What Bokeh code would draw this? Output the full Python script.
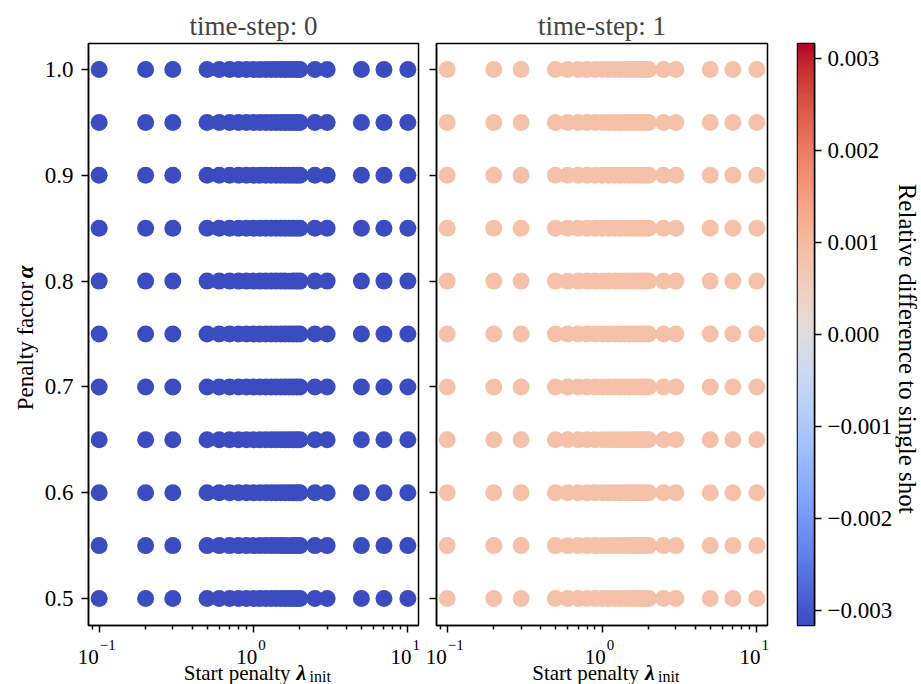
import numpy as np
from bokeh.plotting import figure
from bokeh.layouts import row, column
from bokeh.models import (Range1d, FixedTicker, LinearColorMapper, Label, LabelSet,
                          ColumnDataSource, CustomJSTickFormatter)
from bokeh.core.properties import value
from bokeh.embed import file_html
from bokeh.resources import INLINE

# ---------------- data ----------------
lambda_init = [0.1, 0.2, 0.3, 0.5, 0.6, 0.7, 0.8, 0.9, 1.0, 1.1, 1.2, 1.3, 1.4, 1.5,
               1.6, 1.7, 1.8, 1.9, 2.0, 2.5, 3.0, 5.0, 7.0, 10.0]
alpha_vals = [0.5, 0.55, 0.6, 0.65, 0.7, 0.75, 0.8, 0.85, 0.9, 0.95, 1.0]
time_steps = [0, 1]
rel_diff = [-0.00316, 0.00085]          # relative difference per time-step
color_limits = [-0.00316, 0.00316]
x_ticks = [0.1, 1.0, 10.0]
x_tick_exp = ["\u22121", "0", "1"]
y_ticks = [0.5, 0.6, 0.7, 0.8, 0.9, 1.0]
cbar_ticks = [-0.003, -0.002, -0.001, 0.0, 0.001, 0.002, 0.003]

# ---------------- style ----------------
FONT = "Liberation Serif"
TICK_FS = 23
LABEL_FS = 22
LW = 1.5
coolwarm = [(59, 76, 192), (68, 90, 204), (77, 104, 215), (87, 117, 225), (98, 130, 234),
            (108, 142, 241), (119, 154, 247), (130, 165, 251), (141, 176, 254), (152, 185, 255),
            (163, 194, 255), (174, 201, 253), (184, 208, 249), (194, 213, 244), (204, 217, 238),
            (213, 219, 230), (221, 221, 221), (229, 216, 209), (236, 211, 197), (241, 204, 185),
            (245, 196, 173), (247, 187, 160), (247, 177, 148), (247, 166, 135), (244, 154, 123),
            (241, 141, 111), (236, 127, 99), (229, 112, 88), (222, 96, 77), (213, 80, 66),
            (203, 62, 56), (192, 40, 47), (180, 4, 38)]


def make_palette(anchors, n=256):
    a = np.array(anchors, float)
    t = np.linspace(0, 1, len(a))
    tt = np.linspace(0, 1, n)
    cols = np.stack([np.interp(tt, t, a[:, k]) for k in range(3)], 1)
    return ["#%02x%02x%02x" % tuple(int(round(c)) for c in r) for r in cols]


palette = make_palette(coolwarm)
mapper = LinearColorMapper(palette=palette, low=color_limits[0], high=color_limits[1])

# geometry (pixels)
TOP = 43          # frame top
FRAME_H = 582     # frame height
BOT = 12          # border below frame in main row
H1 = TOP + FRAME_H + BOT
H2 = 684 - H1
YLAB_W = 38
x_lo, x_hi = 0.0853, 11.72
y_lo, y_hi = 0.4745, 1.0246
x_mid = float(np.sqrt(x_lo * x_hi))
yr = Range1d(y_lo, y_hi)


def style_axes(p):
    p.xgrid.visible = False
    p.ygrid.visible = False
    p.outline_line_color = "black"
    p.outline_line_width = LW
    for ax in p.axis:
        ax.axis_line_width = LW
        ax.major_tick_line_width = LW
        ax.minor_tick_line_width = LW
        ax.major_tick_out = 7
        ax.major_tick_in = 0
        ax.minor_tick_out = 4
        ax.minor_tick_in = 0
        ax.major_label_text_font = FONT
        ax.major_label_text_font_size = f"{TICK_FS}px"
        ax.major_label_text_color = "black"


def hide_labels(ax):
    ax.major_label_text_font_size = "1px"
    ax.major_label_text_color = None
    ax.major_label_standoff = 0


def text_fig(width, height, xr, yr_, log=False):
    f = figure(width=width, height=height, x_range=xr, y_range=yr_,
               x_axis_type="log" if log else "linear",
               x_axis_location=None, y_axis_location=None,
               output_backend="svg", toolbar_location=None,
               min_border_left=0, min_border_right=0, min_border_top=0,
               min_border_bottom=0)
    f.title.visible = False
    f.outline_line_color = None
    f.xgrid.visible = False
    f.ygrid.visible = False
    return f


def panel(step, val, frame_w, left_border, right_border, show_ylabels):
    p = figure(width=left_border + frame_w + right_border, height=H1,
               x_axis_type="log", x_range=Range1d(x_lo, x_hi), y_range=yr,
               output_backend="svg", toolbar_location=None,
               min_border_left=left_border, min_border_right=right_border,
               min_border_top=TOP, min_border_bottom=BOT,
               title=f"time-step: {step}")
    p.title.align = "center"
    p.title.text_font = FONT
    p.title.text_font_size = "27px"
    p.title.text_font_style = "normal"
    p.title.text_line_height = 1.0
    p.title.standoff = 5
    lam_g, alp_g = np.meshgrid(lambda_init, alpha_vals)
    src = ColumnDataSource(dict(lam=lam_g.ravel(), alpha=alp_g.ravel(),
                                val=np.full(lam_g.size, val)))
    p.scatter("lam", "alpha", source=src, size=17,
              fill_color={"field": "val", "transform": mapper}, line_color=None)
    style_axes(p)
    minor = [m * 10.0 ** e for e in (-2, -1, 0, 1) for m in range(2, 10)]
    minor = [v for v in minor if x_lo <= v <= x_hi]
    p.xaxis.ticker = FixedTicker(ticks=x_ticks, minor_ticks=minor)
    hide_labels(p.xaxis[0])
    p.yaxis.ticker = FixedTicker(ticks=y_ticks, minor_ticks=[])
    if show_ylabels:
        p.yaxis.major_label_standoff = 8
        p.yaxis.formatter = CustomJSTickFormatter(code="return tick.toFixed(1);")
    else:
        hide_labels(p.yaxis[0])
    return p


def xlabel_fig(frame_w, pad_left, pad_right):
    # full-width text strip whose log scale lines up with the panel frame above it
    decades = np.log10(x_hi / x_lo)
    ppd = frame_w / decades
    lo = x_lo * 10 ** (-pad_left / ppd)
    hi = x_hi * 10 ** (pad_right / ppd)
    f = text_fig(pad_left + frame_w + pad_right, H2, Range1d(lo, hi), Range1d(0, H2), log=True)
    base_fs, exp_fs = 21, 15
    exp_w = [(0.564 + 0.5 * (len(e) - 1) if e.startswith("\u2212") else 0.5 * len(e)) * exp_fs
             for e in x_tick_exp]
    base_w = 1.0 * base_fs
    base_dx = [-(base_w + w) / 2 + base_w - 3 for w in exp_w]
    tsrc = ColumnDataSource(dict(x=x_ticks, base=["10"] * len(x_ticks), exp=x_tick_exp,
                                 bdx=base_dx, edx=[d + 1 for d in base_dx]))
    yb = 684 - 663
    f.add_layout(LabelSet(x="x", y=yb, text="base", source=tsrc, x_offset="bdx",
                          text_align="right", text_baseline="alphabetic",
                          text_font=value(FONT), text_font_size=f"{base_fs}px",
                          text_color="black"))
    f.add_layout(LabelSet(x="x", y=yb + 14, text="exp", source=tsrc, x_offset="edx",
                          text_align="left", text_baseline="alphabetic",
                          text_font=value(FONT), text_font_size=f"{exp_fs}px",
                          text_color="black"))
    ya = 684 - 672
    f.add_layout(Label(x=x_mid, y=ya, x_offset=37, text="Start penalty",
                       text_align="right", text_baseline="alphabetic", text_font=FONT,
                       text_font_size="21px", text_color="black"))
    f.add_layout(Label(x=x_mid, y=ya, x_offset=43, text="\u03bb",
                       text_align="left", text_baseline="alphabetic", text_font=FONT,
                       text_font_style="bold italic", text_font_size="22px",
                       text_color="black"))
    f.add_layout(Label(x=x_mid, y=ya - 4, x_offset=56, text="init",
                       text_align="left", text_baseline="alphabetic", text_font=FONT,
                       text_font_size="16px", text_color="black"))
    return f


FW1, L1, R1 = 330, 88 - YLAB_W, 8
FW2, L2, R2 = 331, 10, 15
p1 = panel(time_steps[0], rel_diff[0], FW1, L1, R1, True)
p2 = panel(time_steps[1], rel_diff[1], FW2, L2, R2, False)

# ---------------- y label ----------------
ylab = text_fig(YLAB_W, H1, Range1d(0, YLAB_W), Range1d(0, H1))
yc = H1 - (TOP + FRAME_H / 2)
ylab.add_layout(Label(x=25, y=yc + 73, text="Penalty factor", angle=np.pi / 2,
                      text_align="right", text_baseline="middle", text_font=FONT,
                      text_font_size="23px", text_color="black"))
ylab.add_layout(Label(x=25, y=yc + 77, text="\u03b1", angle=np.pi / 2,
                      text_align="left", text_baseline="middle", text_font=FONT,
                      text_font_style="bold italic", text_font_size="23px",
                      text_color="black"))

# ---------------- colorbar ----------------
CB_L, CB_W, CB_R = 15, 20, 78
p3 = figure(width=CB_L + CB_W + CB_R, height=H1, x_range=Range1d(0, 1),
            y_range=Range1d(color_limits[0], color_limits[1]), y_axis_location="right",
            output_backend="svg", toolbar_location=None,
            min_border_left=CB_L, min_border_right=CB_R, min_border_top=TOP,
            min_border_bottom=BOT)
p3.title.visible = False
grad = np.linspace(color_limits[0], color_limits[1], 256).reshape(-1, 1)
p3.image(image=[grad], x=0, y=color_limits[0], dw=1, dh=color_limits[1] - color_limits[0],
         color_mapper=mapper)
style_axes(p3)
p3.xaxis.visible = False
p3.yaxis.ticker = FixedTicker(ticks=cbar_ticks, minor_ticks=[])
p3.yaxis.formatter = CustomJSTickFormatter(
    code="return (tick < -1e-9 ? '\u2212' : '') + Math.abs(tick).toFixed(3);")
p3.yaxis.major_label_standoff = 6

used = YLAB_W + (L1 + FW1 + R1) + (L2 + FW2 + R2) + (CB_L + CB_W + CB_R)
CBL_W = 921 - used
cbl = text_fig(CBL_W, H1, Range1d(0, CBL_W), Range1d(0, H1))
cbl.add_layout(Label(x=CBL_W / 2 - 1, y=yc, text="Relative difference to single shot",
                     angle=-np.pi / 2, text_align="center", text_baseline="middle",
                     text_font=FONT, text_font_size="25px", text_color="black"))

xl1 = xlabel_fig(FW1, YLAB_W + L1, R1)
xl2 = xlabel_fig(FW2, L2, R2)

top_row = row(ylab, p1, p2, p3, cbl, spacing=0)
bottom_row = row(xl1, xl2, spacing=0)
layout = column(top_row, bottom_row, spacing=0)
open("out.html", "w").write(file_html(layout, INLINE))
